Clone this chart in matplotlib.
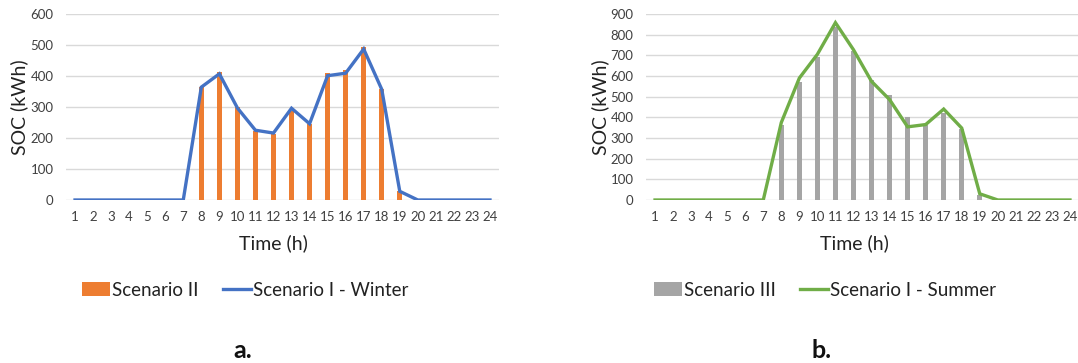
import matplotlib
matplotlib.use("Agg")
import matplotlib.pyplot as plt
from matplotlib.patches import Patch
from matplotlib.lines import Line2D

plt.rcParams['font.family'] = ['Lato', 'DejaVu Sans']

hours = list(range(1, 25))

# Winter day
scenario_ii = [0, 0, 0, 0, 0, 0, 0, 364, 412, 301, 222, 214, 287, 244, 411,
               420, 495, 357, 28, 0, 0, 0, 0, 0]
scenario_i_winter = [0, 0, 0, 0, 0, 0, 0, 364, 407, 297, 225, 216, 296, 246,
                     401, 409, 487, 357, 28, 0, 0, 0, 0, 0]

# Summer day
scenario_iii = [0, 0, 0, 0, 0, 0, 0, 365, 569, 691, 835, 719, 580, 510, 400,
                362, 420, 345, 25, 0, 0, 0, 0, 0]
scenario_i_summer = [0, 0, 0, 0, 0, 0, 0, 375, 590, 705, 858, 727, 574, 486,
                     354, 365, 440, 348, 30, 0, 0, 0, 0, 0]

W, H = 1078, 363
fig = plt.figure(figsize=(W / 100, H / 100), dpi=100)

ORANGE = '#ED7D31'
BLUE = '#4472C4'
GRAY = '#A5A5A5'
GREEN = '#70AD47'
GRID = '#D9D9D9'
TEXT = '#404040'


def panel(x0, x1, bars, line, bar_color, line_color, ymax, bar_name,
          line_name, ylab_x, xlab_x, leg, tag_x, tag):
    ax = fig.add_axes([x0 / W, 1 - 200 / H, (x1 - x0) / W, 186 / H])
    ax.bar(hours, bars, width=0.3, color=bar_color, zorder=2)
    ax.plot(hours, line, color=line_color, lw=2.4, zorder=3,
            solid_joinstyle='miter')
    ax.set_xlim(0.5, 24.5)
    ax.set_ylim(0, ymax)
    ax.set_yticks(range(0, ymax + 1, 100))
    ax.set_xticks(hours)
    ax.grid(axis='y', color=GRID, lw=1.0, zorder=0)
    ax.set_axisbelow(True)
    for s in ax.spines.values():
        s.set_visible(False)
    ax.tick_params(length=0, labelsize=9.5, labelcolor=TEXT)
    ax.tick_params(axis='y', pad=9)
    ax.tick_params(axis='x', pad=8)
    fig.text(ylab_x / W, 1 - 107 / H, 'SOC (kWh)', rotation=90,
             ha='center', va='center', fontsize=14, color='#222222')
    fig.text(xlab_x / W, 1 - 243 / H, 'Time (h)', ha='center',
             va='center', fontsize=14, color='#222222')
    handles = [Patch(facecolor=bar_color, edgecolor='none'),
               Line2D([0], [0], color=line_color, lw=2.4)]
    fig.legend(handles, [bar_name, line_name], loc='center',
               bbox_to_anchor=(leg / W, 1 - 290 / H), ncol=2, frameon=False,
               fontsize=13.5, handlelength=1.5, handleheight=0.7,
               handletextpad=0.1, columnspacing=1.3, labelcolor='#222222')
    fig.text(tag_x / W, 1 - 350 / H, tag, ha='center', va='center',
             fontsize=18, fontweight='bold', color='#111111')
    return ax


panel(66, 499, scenario_ii, scenario_i_winter, ORANGE, BLUE, 600,
      'Scenario II', 'Scenario I - Winter', 19, 273, 245, 243, 'a.')
panel(646, 1079, scenario_iii, scenario_i_summer, GRAY, GREEN, 900,
      'Scenario III', 'Scenario I - Summer', 600, 854, 825, 822, 'b.')

fig.savefig('out.png', dpi=100)
